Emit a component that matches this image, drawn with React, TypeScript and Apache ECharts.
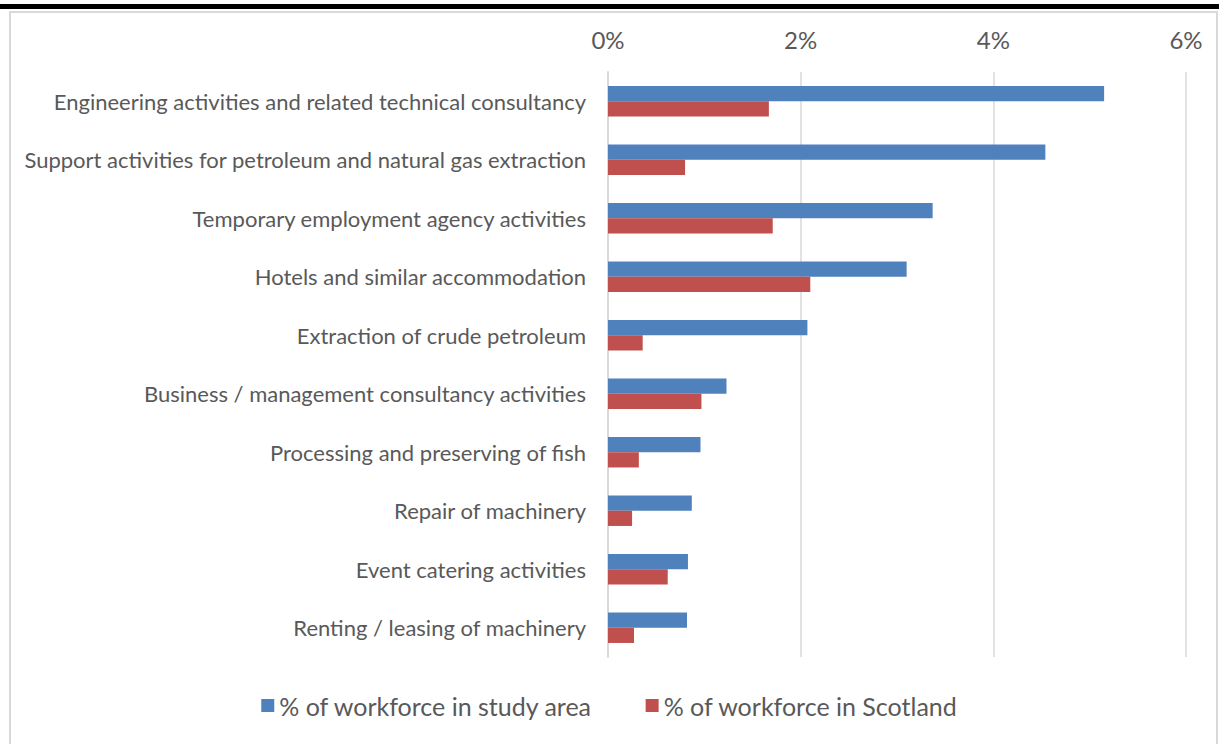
import React, { useEffect, useRef } from "react";
import * as echarts from "echarts";

const categories = [
  "Engineering activities and related technical consultancy",
  "Support activities for petroleum and natural gas extraction",
  "Temporary employment agency activities",
  "Hotels and similar accommodation",
  "Extraction of crude petroleum",
  "Business / management consultancy activities",
  "Processing and preserving of fish",
  "Repair of machinery",
  "Event catering activities",
  "Renting / leasing of machinery",
];
const studyArea = [5.15, 4.54, 3.37, 3.1, 2.07, 1.23, 0.96, 0.87, 0.83, 0.82];
const scotland = [1.67, 0.8, 1.71, 2.1, 0.36, 0.97, 0.32, 0.25, 0.62, 0.27];
const seriesNames = ["% of workforce in study area", "% of workforce in Scotland"];

const FONT = "Lato, sans-serif";
const TXT = "#595959";

export default function App() {
  const ref = useRef<HTMLDivElement>(null);
  useEffect(() => {
    if (!ref.current) return;
    const chart = echarts.init(ref.current, null, { renderer: "svg" });
    chart.setOption({
      animation: false,
      backgroundColor: "#ffffff",
      textStyle: { fontFamily: FONT },
      graphic: [
        { type: "rect", shape: { x: 0, y: 4, width: 1219, height: 5 }, style: { fill: "#000" } },
        {
          type: "rect",
          shape: { x: 10, y: 12, width: 1207, height: 760 },
          style: { fill: "none", stroke: "#d9d9d9", lineWidth: 2 },
        },
      ],
      legend: {
        bottom: 21,
        left: "center",
        itemWidth: 13,
        itemHeight: 13,
        itemGap: 53,
        icon: "rect",
        textStyle: { fontFamily: FONT, fontSize: 25, color: TXT },
        data: seriesNames,
      },
      grid: { left: 608, right: 33, top: 72, bottom: 87, containLabel: false },
      xAxis: {
        type: "value",
        position: "top",
        min: 0,
        max: 6,
        interval: 2,
        axisLine: { show: false },
        axisTick: { show: false },
        axisLabel: {
          formatter: (v: number) => `${v}%`,
          fontFamily: FONT,
          fontSize: 24,
          color: TXT,
          margin: 21,
        },
        splitLine: { show: true, lineStyle: { color: "#d9d9d9", width: 1.5 } },
      },
      yAxis: {
        type: "category",
        inverse: true,
        data: categories,
        axisLine: { show: true, lineStyle: { color: "#d9d9d9", width: 2 } },
        axisTick: { show: false },
        axisLabel: { fontFamily: FONT, fontSize: 22, color: TXT, margin: 22 },
      },
      series: [
        {
          name: seriesNames[0],
          type: "bar",
          data: studyArea,
          itemStyle: { color: "#4f81bd" },
          barGap: "0%",
          barCategoryGap: "48%",
        },
        {
          name: seriesNames[1],
          type: "bar",
          data: scotland,
          itemStyle: { color: "#c0504d" },
          barGap: "0%",
          barCategoryGap: "48%",
        },
      ],
    });
    return () => chart.dispose();
  }, []);
  return (
    <div
      ref={ref}
      style={{ position: "fixed", left: 0, top: 0, width: 1219, height: 744 }}
    />
  );
}
